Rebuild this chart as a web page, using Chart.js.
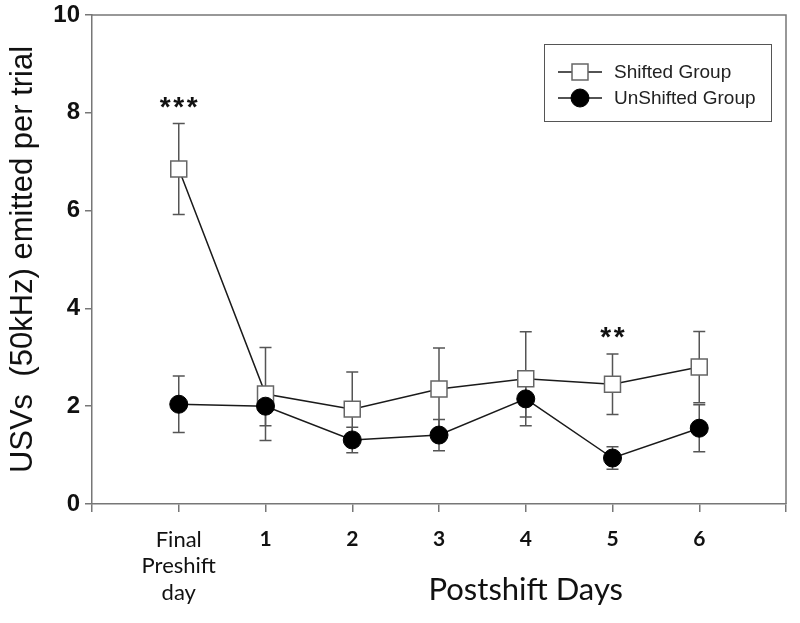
<!DOCTYPE html>
<html>
<head>
<meta charset="utf-8">
<script src="https://cdn.jsdelivr.net/npm/chart.js@4.4.1/dist/chart.umd.min.js"></script>
<style>
  html, body { margin: 0; padding: 0; background: #fff; }
  #wrap { width: 800px; height: 623px; }
</style>
</head>
<body>
<div id="wrap"><canvas id="usvChart" width="800" height="623"></canvas></div>
<script>
// --- data ---
const dayLabels = [['Final', 'Preshift', 'day'], '1', '2', '3', '4', '5', '6'];
const dayPos = [0, 1, 2, 3, 4, 5, 6];

const shiftedMean = [6.85, 2.25, 1.94, 2.35, 2.56, 2.45, 2.80];
const shiftedErr  = [0.93, 0.95, 0.76, 0.84, 0.96, 0.62, 0.73];

const unshiftedMean = [2.04, 2.00, 1.31, 1.41, 2.15, 0.94, 1.55];
const unshiftedErr  = [0.58, 0.40, 0.26, 0.32, 0.37, 0.23, 0.48];

const sigMarks = ['***', '', '', '', '', '**', ''];

const yTicks = [0, 2, 4, 6, 8, 10];

const axisColor = '#777';
const lineColor = '#1a1a1a';

function toPoints(means) {
    return means.map((v, i) => ({ x: dayPos[i], y: v }));
}

// error bars go under the markers
const errorBars = {
    id: 'errorBars',
    beforeDatasetsDraw(chart) {
        const ctx = chart.ctx;
        const x = chart.scales.x, y = chart.scales.y;
        const sets = [[shiftedMean, shiftedErr], [unshiftedMean, unshiftedErr]];
        ctx.save();
        ctx.strokeStyle = '#555';
        ctx.lineWidth = 1.5;
        sets.forEach(([m, e]) => {
            m.forEach((v, i) => {
                const px = x.getPixelForValue(dayPos[i]);
                const top = y.getPixelForValue(v + e[i]);
                const bot = y.getPixelForValue(v - e[i]);
                ctx.beginPath();
                ctx.moveTo(px, top); ctx.lineTo(px, bot);
                ctx.moveTo(px - 6, top); ctx.lineTo(px + 6, top);
                ctx.moveTo(px - 6, bot); ctx.lineTo(px + 6, bot);
                ctx.stroke();
            });
        });
        ctx.restore();
    }
};

const extras = {
    id: 'extras',
    afterDraw(chart) {
        const ctx = chart.ctx;
        const a = chart.chartArea;
        const x = chart.scales.x, y = chart.scales.y;
        ctx.save();

        // top and right frame
        ctx.strokeStyle = axisColor;
        ctx.lineWidth = 1.5;
        ctx.beginPath();
        ctx.moveTo(a.left, a.top); ctx.lineTo(a.right, a.top); ctx.lineTo(a.right, a.bottom);
        ctx.stroke();

        // significance stars
        ctx.fillStyle = '#111';
        ctx.font = 'bold 28px "Liberation Sans", Arial, sans-serif';
        ctx.textAlign = 'center';
        ctx.textBaseline = 'alphabetic';
        sigMarks.forEach((s, i) => {
            if (!s) return;
            const px = x.getPixelForValue(dayPos[i]);
            const py = y.getPixelForValue(shiftedMean[i] + shiftedErr[i]) - 8;
            const step = 13.5;
            for (let k = 0; k < s.length; k++) {
                ctx.fillText(s[k], px + (k - (s.length - 1) / 2) * step, py);
            }
        });

        // x axis title, sits right of centre
        ctx.font = '31px Lato, "Open Sans", sans-serif';
        ctx.fillStyle = '#111';
        ctx.textBaseline = 'middle';
        ctx.fillText('Postshift Days', x.getPixelForValue(4), 590);

        // legend box
        const lx = 544, ly = 44, lw = 227, lh = 77;
        ctx.strokeStyle = '#555';
        ctx.lineWidth = 1;
        ctx.strokeRect(lx + 0.5, ly + 0.5, lw, lh);
        const entries = [
            { label: 'Shifted Group', ds: chart.data.datasets[0], y: 72 },
            { label: 'UnShifted Group', ds: chart.data.datasets[1], y: 98 }
        ];
        entries.forEach(en => {
            ctx.strokeStyle = lineColor;
            ctx.lineWidth = 1.5;
            ctx.beginPath();
            ctx.moveTo(558, en.y); ctx.lineTo(602, en.y);
            ctx.stroke();
            ctx.fillStyle = en.ds.pointBackgroundColor;
            ctx.strokeStyle = en.ds.pointBorderColor;
            ctx.lineWidth = en.ds.pointBorderWidth;
            Chart.helpers.drawPoint(ctx, {
                pointStyle: en.ds.pointStyle,
                radius: en.ds.pointRadius,
                borderWidth: en.ds.pointBorderWidth
            }, 580, en.y);
            ctx.fillStyle = '#222';
            ctx.font = '19px "Liberation Sans", Arial, sans-serif';
            ctx.textAlign = 'left';
            ctx.textBaseline = 'middle';
            ctx.fillText(en.label, 614, en.y + 1);
        });

        ctx.restore();
    }
};

new Chart(document.getElementById('usvChart'), {
    type: 'scatter',
    data: {
        datasets: [
            {
                label: 'Shifted Group',
                data: toPoints(shiftedMean),
                showLine: true,
                borderColor: lineColor,
                borderWidth: 1.5,
                pointStyle: 'rect',
                pointRadius: 11.3,
                pointBackgroundColor: '#fff',
                pointBorderColor: '#666',
                pointBorderWidth: 1.5,
                order: 1
            },
            {
                label: 'UnShifted Group',
                data: toPoints(unshiftedMean),
                showLine: true,
                borderColor: lineColor,
                borderWidth: 1.5,
                pointStyle: 'circle',
                pointRadius: 9,
                pointBackgroundColor: '#000',
                pointBorderColor: '#000',
                pointBorderWidth: 1,
                order: 0
            }
        ]
    },
    options: {
        responsive: false,
        animation: false,
        layout: { padding: { top: 15, right: 8, left: 0, bottom: 0 } },
        plugins: {
            legend: { display: false },
            tooltip: { enabled: false }
        },
        scales: {
            x: {
                type: 'linear',
                min: -1,
                max: 7,
                afterFit(scale) { scale.height = 119; },
                afterBuildTicks(scale) {
                    scale.ticks = [-1].concat(dayPos, [7]).map(v => ({ value: v }));
                },
                ticks: {
                    autoSkip: false,
                    maxRotation: 0,
                    padding: 14,
                    color: '#111',
                    font: (c) => (c.tick && c.tick.value === 0)
                        ? { family: 'Lato, "Open Sans", sans-serif', size: 22, lineHeight: 1.22 }
                        : { family: 'Lato, "Open Sans", sans-serif', size: 21, weight: 'bold', lineHeight: 1.22 },
                    callback: (v) => {
                        const i = dayPos.indexOf(v);
                        return i >= 0 ? dayLabels[i] : '';
                    }
                },
                grid: { drawOnChartArea: false, drawTicks: true, tickLength: 8, color: axisColor, lineWidth: 1.5 },
                border: { display: true, color: axisColor, width: 1.5 }
            },
            y: {
                min: 0,
                max: 10,
                afterFit(scale) {
                    scale.width = 92;
                    scale.paddingTop = 0;
                    scale.paddingBottom = 0;
                },
                afterBuildTicks(scale) {
                    scale.ticks = yTicks.map(v => ({ value: v }));
                },
                ticks: {
                    padding: 5,
                    color: '#111',
                    font: { family: '"Liberation Sans", Arial, sans-serif', size: 24, weight: 'bold' }
                },
                grid: { drawOnChartArea: false, drawTicks: true, tickLength: 7, color: axisColor, lineWidth: 1.5 },
                border: { display: true, color: axisColor, width: 1.5 },
                title: {
                    display: true,
                    text: 'USVs  (50kHz) emitted per trial',
                    color: '#111',
                    font: { family: '"Liberation Sans", Arial, sans-serif', size: 31 },
                    padding: { top: 5, bottom: 0 }
                }
            }
        }
    },
    plugins: [errorBars, extras]
});
</script>
</body>
</html>
